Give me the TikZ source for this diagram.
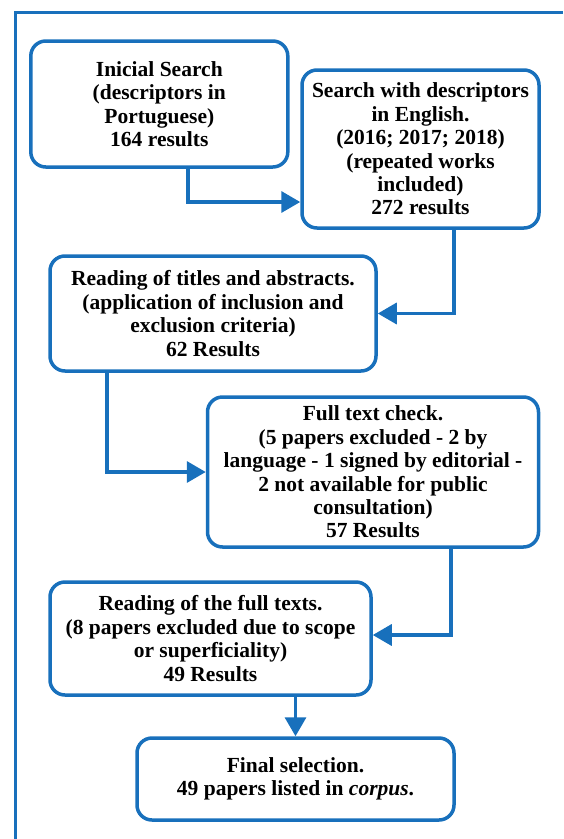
\documentclass[tikz,border=0pt]{standalone}
\usepackage{fontspec}
\setmainfont{Liberation Serif}[BoldFont={Liberation Serif Bold},
  BoldItalicFont={Liberation Serif Bold Italic}]
\usetikzlibrary{arrows.meta}
\definecolor{flowblue}{RGB}{24,112,188}

\begin{document}
\begin{tikzpicture}[x=1pt, y=-1pt,
      box/.style={draw=flowblue, line width=3.5pt, rounded corners=15pt,
        inner sep=0pt, align=center,
        font=\rmfamily\bfseries\fontsize{21.5}{23.4}\selectfont},
      flow/.style={draw=flowblue, line width=3.5pt,
        -{Triangle[length=19pt,width=21pt]}}]
      \useasboundingbox (0,0) rectangle (563,839);
      % frame, cut on the right and at the bottom
      \draw[flowblue, line width=3pt] (15,839) -- (15,12.5) -- (563,12.5);
      \node[box, minimum width=257pt, minimum height=126pt] (initial) at (159.3,104)
        {Inicial Search\\(descriptors in\\Portuguese)\\164 results};
      \node[box, minimum width=237pt, minimum height=158pt] (english) at (420.5,149)
        {Search with descriptors\\in English.\\(2016; 2017; 2018)\\(repeated works\\included)\\272 results};
      \node[box, minimum width=326pt, minimum height=115pt] (titles) at (213,313.5)
        {Reading of titles and abstracts.\\(application of inclusion and\\exclusion criteria)\\62 Results};
      \node[box, minimum width=331pt, minimum height=150pt] (check) at (373,472)
        {Full text check.\\(5 papers excluded - 2 by\\language - 1 signed by editorial -\\2 not available for public\\consultation)\\57 Results};
      \node[box, minimum width=321pt, minimum height=113pt] (fulltext) at (210.5,638.5)
        {Reading of the full texts.\\(8 papers excluded due to scope\\or superficiality)\\49 Results};
      \node[box, minimum width=317pt, minimum height=82pt] (final) at (295.5,779)
        {Final selection.\\49 papers listed in \textit{corpus}.};
      % connectors
      \draw[flow] ([xshift=28.7pt]initial.south) |- ([yshift=-53pt]english.west);
      \draw[flow] ([xshift=33.5pt]english.south) |- (titles.east);
      \draw[flow] ([xshift=-106pt]titles.south) |- (check.west);
      \draw[flow] ([xshift=78pt]check.south) |- ([yshift=3.5pt]fulltext.east);
      \draw[flow] (fulltext.south -| final.north) -- (final.north);
\end{tikzpicture}
\end{document}
